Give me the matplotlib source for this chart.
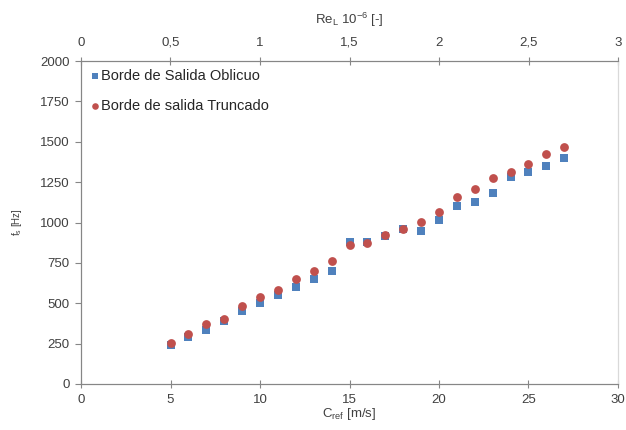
import matplotlib
matplotlib.use("Agg")
import matplotlib.pyplot as plt
from matplotlib.ticker import FuncFormatter

plt.rcParams['font.family'] = ['Liberation Sans', 'DejaVu Sans']

c_ref = [5, 6, 7, 8, 9, 10, 11, 12, 13, 14, 15, 16, 17, 18, 19, 20, 21, 22, 23, 24, 25, 26, 27]
oblicuo = [240, 290, 334, 390, 452, 500, 551, 600, 648, 702, 879, 880, 918, 958, 945, 1015, 1105, 1127, 1183, 1280, 1312, 1352, 1400]
truncado = [252, 308, 371, 400, 483, 537, 584, 650, 698, 760, 859, 876, 920, 960, 1005, 1063, 1156, 1205, 1277, 1315, 1362, 1426, 1465]

x_ticks = [0, 5, 10, 15, 20, 25, 30]
y_ticks = [0, 250, 500, 750, 1000, 1250, 1500, 1750, 2000]
re_ticks = [0, 0.5, 1, 1.5, 2, 2.5, 3]

blue = '#4F81BD'
red = '#C0504D'
spine_col = '#868686'
txt_col = '#404040'

fig = plt.figure(figsize=(6.26, 4.30), dpi=100)
ax = fig.add_axes([81/626, 46/430, 537/626, 323/430])

ax.scatter(c_ref, oblicuo, marker='s', s=36, color=blue, label='Borde de Salida Oblicuo', zorder=2, linewidths=0)
ax.scatter(c_ref, truncado, marker='o', s=40, color=red, label='Borde de salida Truncado', zorder=3, linewidths=0)

ax.set_xlim(0, 30)
ax.set_ylim(0, 2000)
ax.set_xticks(x_ticks)
ax.set_yticks(y_ticks)
ax.set_xlabel('C$_\\mathregular{ref}$ [m/s]', fontsize=9.5, color=txt_col, labelpad=0)
ax.set_ylabel('f$_\\mathregular{s}$ [Hz]', fontsize=7, color=txt_col, labelpad=12)

for s in ['left', 'bottom', 'top']:
    ax.spines[s].set_color(spine_col)
ax.spines['right'].set_color('#d9d9d9')
ax.tick_params(axis='x', direction='inout', length=6, color=spine_col, labelsize=9.5, labelcolor=txt_col, pad=4)
ax.tick_params(axis='y', direction='out', length=4, color=spine_col, labelsize=9.5, labelcolor=txt_col, pad=4)

ax2 = ax.twiny()
ax2.set_xlim(0, 3)
ax2.set_xticks(re_ticks)
ax2.xaxis.set_major_formatter(FuncFormatter(lambda v, p: ('%g' % v).replace('.', ',')))
ax2.tick_params(axis='x', direction='inout', length=6, color=spine_col, labelsize=9.5, labelcolor=txt_col, pad=6)
ax2.set_xlabel('Re$_\\mathregular{L}$ 10$^\\mathregular{-6}$ [-]', fontsize=9.5, color=txt_col, labelpad=9)
for s in ['left', 'bottom', 'top']:
    ax2.spines[s].set_color(spine_col)
ax2.spines['right'].set_color('#d9d9d9')

leg = ax.legend(loc='upper left', frameon=False, fontsize=10.5, handletextpad=0.05, handlelength=0.8,
                markerscale=0.75, borderaxespad=0.25, borderpad=0.3, labelspacing=1.1)
for t in leg.get_texts():
    t.set_color('#262626')

fig.savefig('out.png', dpi=100)
